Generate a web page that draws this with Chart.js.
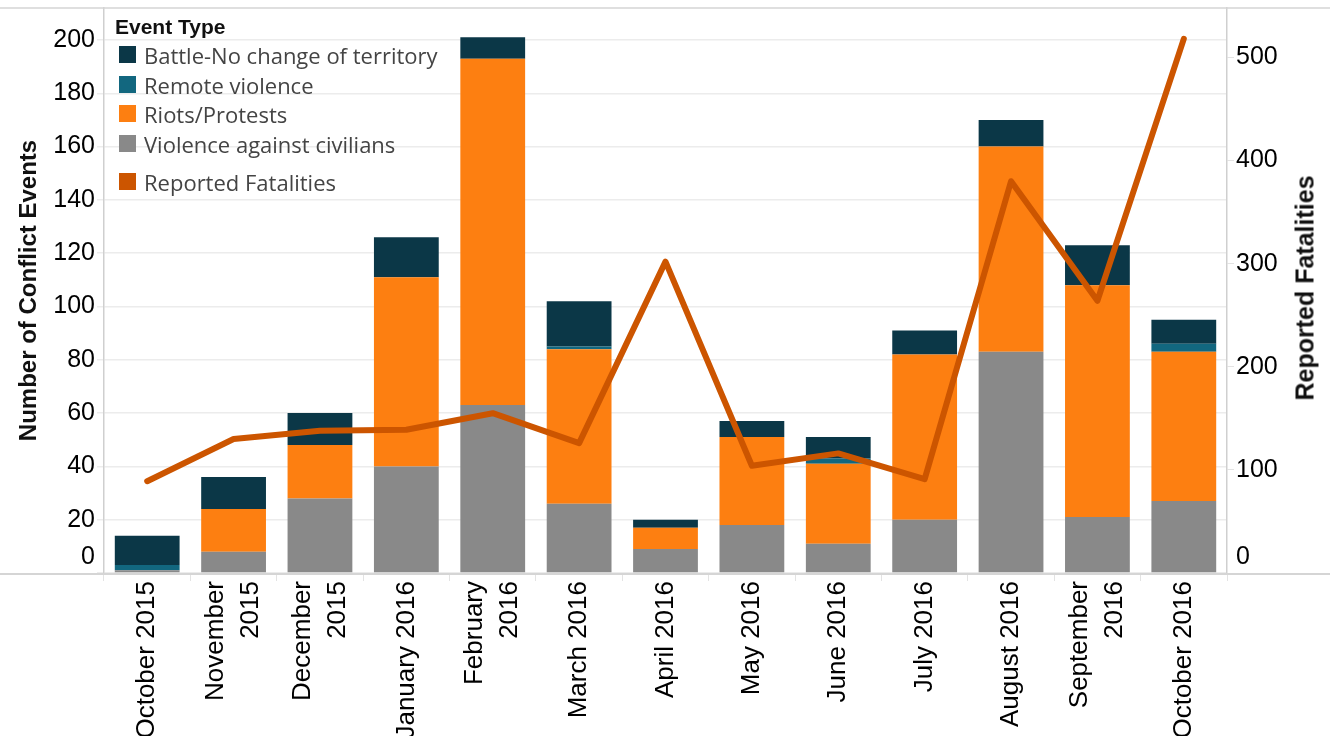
<!DOCTYPE html>
<html><head><meta charset="utf-8">
<script src="https://cdn.jsdelivr.net/npm/chart.js@4.4.0/dist/chart.umd.min.js"></script>
<style>
html,body{margin:0;padding:0;background:#fff;}
#wrap{position:relative;width:1338px;height:736px;overflow:hidden;background:#fff;}
#c{position:absolute;left:0;top:0;}
#legend{position:absolute;left:0;top:0;width:0;height:0;}
#legend .ttl{position:absolute;left:115px;top:27px;transform:translateY(-50%);font-family:"Liberation Sans",Arial,sans-serif;font-weight:bold;font-size:21px;color:#111;white-space:nowrap;}
#legend .item{position:absolute;left:119px;height:17px;white-space:nowrap;}
#legend .sw{position:absolute;left:0;top:0;width:17px;height:17px;}
#legend .lab{position:absolute;left:25px;top:50%;transform:translateY(-50%);font-family:"Open Sans",sans-serif;font-size:22px;color:#444;line-height:1;}
#rtitle{position:absolute;left:1305px;top:288px;transform:translate(-50%,-50%) rotate(-90deg);font-family:"Liberation Sans",Arial,sans-serif;font-weight:bold;font-size:25px;color:#111;white-space:nowrap;}
</style></head>
<body>
<div id="wrap">
<canvas id="c" width="1338" height="736"></canvas>
<div id="legend"></div>
<div id="rtitle">Reported Fatalities</div>
</div>
<script>
// ---- data ----
const months = ["October 2015", ["November", "2015"], ["December", "2015"], "January 2016", ["February", "2016"], "March 2016", "April 2016", "May 2016", "June 2016", "July 2016", "August 2016", ["September", "2016"], "October 2016"];
const violenceAgainstCivilians = [1, 8, 28, 40, 63, 26, 9, 18, 11, 20, 83, 21, 27];
const riotsProtests = [0, 16, 20, 71, 130, 58, 8, 33, 30, 62, 77, 87, 56];
const remoteViolence = [2, 0, 0, 0, 0, 1, 0, 0, 2, 0, 0, 0, 3];
const battleNoChange = [11, 12, 12, 15, 8, 17, 3, 6, 8, 9, 10, 15, 9];
const reportedFatalities = [89, 130, 138, 139, 155, 126, 302, 104, 116, 91, 380, 264, 518];
const leftTicks = [0, 20, 40, 60, 80, 100, 120, 140, 160, 180, 200];
const rightTicks = [0, 100, 200, 300, 400, 500];

const COLORS = {
  battle: '#0b3747',
  remote: '#12677f',
  riots: '#fd7f11',
  violence: '#898989',
  fatal: '#cc5500'
};

// ---- legend (HTML, real text) ----
const legendItems = [
  ['Battle-No change of territory', COLORS.battle, 46],
  ['Remote violence', COLORS.remote, 76],
  ['Riots/Protests', COLORS.riots, 105],
  ['Violence against civilians', COLORS.violence, 135],
  ['Reported Fatalities', COLORS.fatal, 173]
];
const lg = document.getElementById('legend');
const t = document.createElement('div'); t.className = 'ttl'; t.textContent = 'Event Type'; lg.appendChild(t);
legendItems.forEach(([txt, col, top]) => {
  const it = document.createElement('div'); it.className = 'item'; it.style.top = top + 'px';
  const sw = document.createElement('div'); sw.className = 'sw'; sw.style.background = col;
  const lb = document.createElement('div'); lb.className = 'lab'; lb.textContent = txt;
  it.appendChild(sw); it.appendChild(lb); lg.appendChild(it);
});

// ---- helpers to nudge library-computed tick labels ----
function patchLabelItems(scale, adjust) {
  if (scale._patchedLabels) return;
  scale._patchedLabels = true;
  const orig = scale._computeLabelItems;
  scale._computeLabelItems = function (ca) {
    const items = orig.call(this, ca);
    items.forEach((it, i) => adjust(it, i, this));
    return items;
  };
}
const centerMultiline = s => patchLabelItems(s, (it) => {
  if (Array.isArray(it.label) && it.label.length > 1) {
    it.options.translation[0] -= (it.label.length - 1) * it.font.lineHeight / 2;
  }
});
const liftZero = s => patchLabelItems(s, (it, i, sc) => {
  if (sc.ticks[i] && sc.ticks[i].value === 0) it.options.translation[1] -= 16;
});

// ---- frame lines plugin ----
const frame = {
  id: 'frame',
  afterDraw(chart) {
    const { ctx, chartArea: a } = chart;
    ctx.save();
    ctx.strokeStyle = '#d5d5d5';
    ctx.lineWidth = 2;
    ctx.beginPath(); ctx.moveTo(0, a.bottom + 1); ctx.lineTo(1330, a.bottom + 1); ctx.stroke();
    ctx.lineWidth = 1.5;
    ctx.beginPath(); ctx.moveTo(0, a.top); ctx.lineTo(1330, a.top); ctx.stroke();
    ctx.restore();
  }
};

const yTickFont = { family: '"Liberation Sans", Arial, sans-serif', size: 25 };
const xTickFont = { family: '"Liberation Sans", Arial, sans-serif', size: 26, lineHeight: 1.35 };

new Chart(document.getElementById('c'), {
  type: 'bar',
  data: {
    labels: months,
    datasets: [
      { label: 'Violence against civilians', data: violenceAgainstCivilians, backgroundColor: COLORS.violence, order: 1, yAxisID: 'y' },
      { label: 'Riots/Protests', data: riotsProtests, backgroundColor: COLORS.riots, order: 1, yAxisID: 'y' },
      { label: 'Remote violence', data: remoteViolence, backgroundColor: COLORS.remote, order: 1, yAxisID: 'y' },
      { label: 'Battle-No change of territory', data: battleNoChange, backgroundColor: COLORS.battle, order: 1, yAxisID: 'y' },
      { type: 'line', label: 'Reported Fatalities', data: reportedFatalities, borderColor: COLORS.fatal, backgroundColor: COLORS.fatal,
        borderWidth: 6, pointRadius: 0, tension: 0, borderCapStyle: 'round', borderJoinStyle: 'round', order: 0, yAxisID: 'y1', stack: 'line' }
    ]
  },
  options: {
    responsive: false,
    animation: false,
    devicePixelRatio: 1,
    layout: { padding: { top: 8, left: 0, right: 0, bottom: 0 } },
    datasets: { bar: { categoryPercentage: 1, barPercentage: 0.75 } },
    plugins: { legend: { display: false }, tooltip: { enabled: false } },
    scales: {
      x: {
        stacked: true,
        grid: { offset: true, drawOnChartArea: false, tickLength: 8, color: '#e3e3e3' },
        border: { display: false },
        ticks: { minRotation: 90, maxRotation: 90, autoSkip: false, font: xTickFont, color: '#000', padding: 0 },
        beforeUpdate: centerMultiline,
        afterFit(s) { s.height = 163; s.paddingLeft = 0; s.paddingRight = 0; }
      },
      y: {
        stacked: true, position: 'left', min: 0, max: 212,
        afterBuildTicks(s) { s.ticks = leftTicks.map(v => ({ value: v })); },
        ticks: { font: yTickFont, color: '#000', padding: 2 },
        grid: { color: '#ececec', tickLength: 7, lineWidth: 1.5 },
        border: { color: '#cfcfcf', width: 1.5 },
        title: { display: true, text: 'Number of Conflict Events', color: '#111',
          font: { family: '"Liberation Sans", Arial, sans-serif', size: 24, weight: 'bold' }, padding: { top: 15, bottom: 0 } },
        beforeUpdate: liftZero,
        afterFit(s) { s.width = 104; s.paddingTop = 0; s.paddingBottom = 0; }
      },
      y1: {
        position: 'right', min: 0, max: 548,
        afterBuildTicks(s) { s.ticks = rightTicks.map(v => ({ value: v })); },
        ticks: { font: yTickFont, color: '#000', padding: 2 },
        grid: { drawOnChartArea: false, color: '#e3e3e3', tickLength: 7 },
        border: { color: '#cfcfcf', width: 1.5 },
        beforeUpdate: liftZero,
        afterFit(s) { s.width = 111; s.paddingTop = 0; s.paddingBottom = 0; }
      }
    }
  },
  plugins: [frame]
});
</script>
</body></html>
